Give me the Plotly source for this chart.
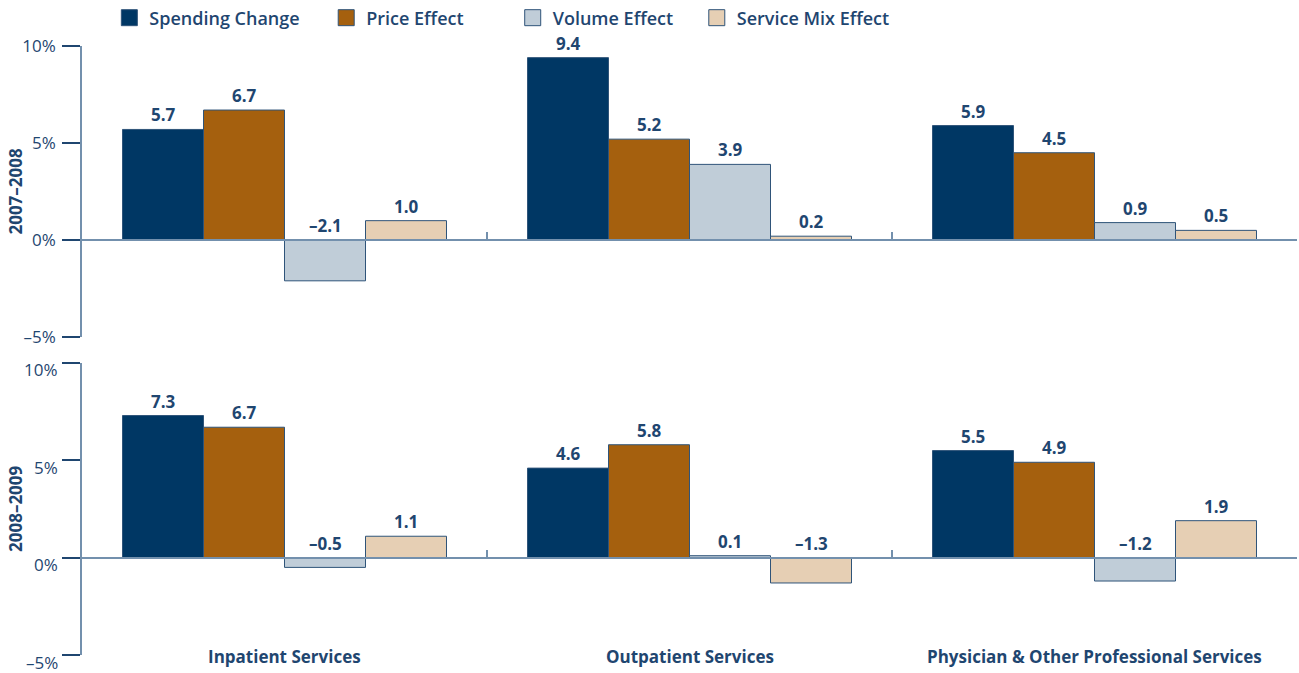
import plotly.graph_objects as go
from plotly.subplots import make_subplots

# 資料
categories = ["Inpatient Services", "Outpatient Services", "Physician & Other Professional Services"]
series_names = ["Spending Change", "Price Effect", "Volume Effect", "Service Mix Effect"]
periods = ["2007–2008", "2008–2009"]

values_2007_2008 = [
    [5.7, 9.4, 5.9],   # Spending Change
    [6.7, 5.2, 4.5],   # Price Effect
    [-2.1, 3.9, 0.9],  # Volume Effect
    [1.0, 0.2, 0.5],   # Service Mix Effect
]
values_2008_2009 = [
    [7.3, 4.6, 5.5],
    [6.7, 5.8, 4.9],
    [-0.5, 0.1, -1.2],
    [1.1, -1.3, 1.9],
]

tick_vals = [-5, 0, 5, 10]
tick_text = ["–5%", "0%", "5%", "10%"]

colors = ["#003764", "#a5600e", "#c0cdd8", "#e6cfb4"]
edge = "#2f5479"
navy = "#1f4670"
axis_col = "#7390ad"
font_family = "Open Sans, Lato, sans-serif"

# 圖例位置 (paper x)
legend_x = [0.0225, 0.201, 0.3545, 0.506]

fig = make_subplots(rows=2, cols=1, shared_xaxes=False, vertical_spacing=0.0)

panels = [values_2007_2008, values_2008_2009]
for row, data in enumerate(panels, start=1):
    for j, name in enumerate(series_names):
        fig.add_trace(
            go.Bar(
                x=categories,
                y=data[j],
                name=name,
                marker=dict(color=colors[j], line=dict(color=edge, width=1)),
                showlegend=False,
            ),
            row=row,
            col=1,
        )

# 圖例 (較大方塊，各自獨立放置)
legend_ids = ["legend", "legend2", "legend3", "legend4"]
for j, name in enumerate(series_names):
    fig.add_trace(
        go.Scatter(
            x=[None], y=[None], mode="markers", name=name, legend=legend_ids[j],
            marker=dict(symbol="square", size=16, color=colors[j], line=dict(color=edge, width=1)),
        ),
        row=1, col=1,
    )

annotations = []
# 數值標籤
for row, data in enumerate(panels, start=1):
    yref = "y" if row == 1 else "y2"
    xref = "x" if row == 1 else "x2"
    for j in range(len(series_names)):
        for i, v in enumerate(data[j]):
            label = f"{v:.1f}".replace("-", "–")
            annotations.append(dict(
                x=i + (j - 1.5) * 0.2, y=max(v, 0), xref=xref, yref=yref,
                text=label, showarrow=False, yanchor="bottom", yshift=1,
                font=dict(size=17, color=navy, family=font_family, weight=700),
            ))

# 下方面板的刻度標籤 (略往下偏)
for tv, tt in zip(tick_vals, tick_text):
    annotations.append(dict(
        x=0, y=tv, xref="paper", yref="y2", text=tt, showarrow=False,
        xanchor="right", xshift=-23, yshift=-7, borderpad=0,
        font=dict(size=17, color=navy, family=font_family),
    ))

# 類別標籤
for c in categories:
    annotations.append(dict(
        x=c, y=-5, xref="x2", yref="y2", text=c, showarrow=False,
        yanchor="middle", yshift=-1,
        font=dict(size=17, color=navy, family=font_family, weight=700),
    ))

# 年度標題
for k, p in enumerate(periods):
    annotations.append(dict(
        x=0, y=2.5, xref="paper", yref="y" if k == 0 else "y2", text=p,
        showarrow=False, textangle=-90, xanchor="center", xshift=-66,
        font=dict(size=17, color=navy, family=font_family, weight=700),
    ))

ymin, ymax = -5, 10
top_dom = [0.522, 1.0]
bot_dom = [0.0, 0.4795]

legend_style = dict(
    orientation="h", y=1.046, yanchor="middle", xanchor="left",
    font=dict(size=18, color=navy, family=font_family, weight=600),
    itemwidth=30, bgcolor="rgba(0,0,0,0)",
)

fig.update_layout(
    width=1299,
    height=673,
    barmode="group",
    bargap=0.2,
    bargroupgap=0,
    plot_bgcolor="white",
    paper_bgcolor="white",
    margin=dict(l=82, r=2, t=46, b=18, autoexpand=False),
    font=dict(family=font_family, color=navy, size=17),
    showlegend=True,
    legend=dict(x=legend_x[0], **legend_style),
    legend2=dict(x=legend_x[1], **legend_style),
    legend3=dict(x=legend_x[2], **legend_style),
    legend4=dict(x=legend_x[3], **legend_style),
    annotations=annotations,
)

for row, dom in [(1, top_dom), (2, bot_dom)]:
    zero_pos = dom[0] + (dom[1] - dom[0]) * (0 - ymin) / (ymax - ymin)
    fig.update_yaxes(
        range=[ymin, ymax], domain=dom, tickvals=tick_vals, ticktext=tick_text,
        showgrid=False, zeroline=False, showline=True, linecolor=axis_col, linewidth=1.5,
        ticks="outside", ticklen=18, tickcolor=navy, tickwidth=1.5,
        showticklabels=(row == 1), tickfont=dict(size=17, color=navy),
        ticklabelstandoff=3, automargin=False,
        row=row, col=1,
    )
    fig.update_xaxes(
        domain=[0, 1], anchor="free", position=zero_pos,
        showgrid=False, zeroline=False, showline=True, linecolor=axis_col, linewidth=1.5,
        ticks="inside", tickson="boundaries", ticklen=7, tickcolor=axis_col, tickwidth=1.5,
        showticklabels=False, automargin=False,
        row=row, col=1,
    )

# 去掉頁面預設邊距，讓圖表貼齊視窗
fig.write_html(
    "out.html",
    config={"displayModeBar": False},
    post_script="document.body.style.margin='0';",
)
